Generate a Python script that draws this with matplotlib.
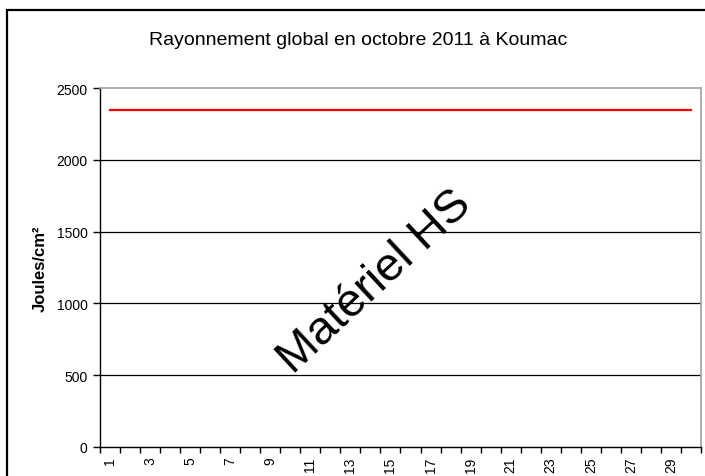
import matplotlib
matplotlib.use("Agg")
import matplotlib.pyplot as plt
from matplotlib.patches import Rectangle
import numpy as np

plt.rcParams['font.family'] = ['Liberation Sans', 'DejaVu Sans']

days = list(range(1, 31))
rayonnement = [2350] * 30
y_ticks = [0, 500, 1000, 1500, 2000, 2500]
x_labels = [str(d) for d in days if d % 2 == 1]

fig = plt.figure(figsize=(7.05, 4.77), dpi=100)
ax = fig.add_axes([0.1418, 0.0608, 0.8525, 0.7526])

ax.plot(days, rayonnement, color='#FF0000', lw=1.6, zorder=3)
ax.set_xlim(0.5, 30.5)
ax.set_ylim(0, 2500)
ax.set_yticks(y_ticks)
ax.set_yticklabels([str(v) for v in y_ticks], fontsize=10)
for v in y_ticks[1:-1]:
    ax.axhline(v, color='black', lw=0.9, zorder=1)

odd = [d for d in days if d % 2 == 1]
ax.set_xticks(odd)
ax.set_xticklabels(x_labels, rotation=90, fontsize=10)
ax.tick_params(axis='x', which='major', length=0, pad=7)
ax.set_xticks(np.arange(0.5, 31, 1.0), minor=True)
ax.tick_params(axis='x', which='minor', length=4, width=1, color='black', direction='out')
ax.tick_params(axis='y', length=5, width=1, color='black', direction='out', pad=4)

for s in ['top', 'right']:
    ax.spines[s].set_color('#A0A0A0')
    ax.spines[s].set_linewidth(1.2)
ax.spines['left'].set_color('black')
ax.spines['bottom'].set_color('black')
ax.spines['left'].set_linewidth(1)
ax.spines['bottom'].set_linewidth(1)

ax.set_ylabel('Joules/cm²', fontsize=12, fontweight='bold', labelpad=6)

fig.text(0.508, 0.916, 'Rayonnement global en octobre 2011 à Koumac',
         ha='center', va='center', fontsize=14)

ax.text(0.4576, 0.462, 'Matériel HS', transform=ax.transAxes, rotation=43,
        ha='center', va='center', fontsize=34, color='black', zorder=4)

fig.patches.append(Rectangle((0.0106, -0.2), 1.2, 0.9759 + 0.2,
                             transform=fig.transFigure, fill=False,
                             edgecolor='black', lw=1.6))

fig.savefig('out.png', dpi=100)
